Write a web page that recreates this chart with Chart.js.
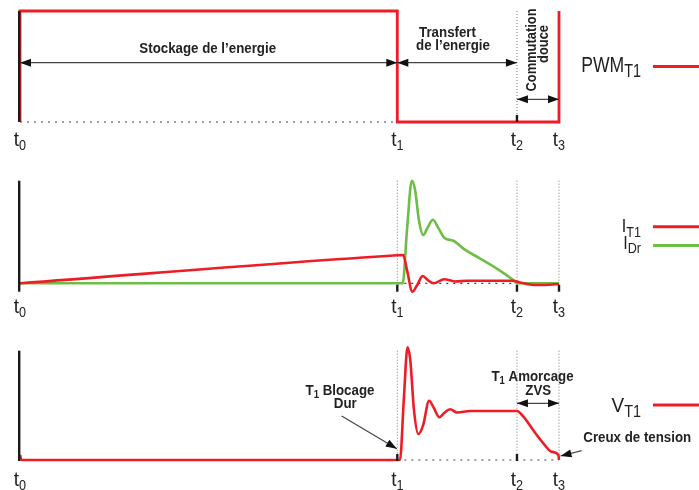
<!DOCTYPE html>
<html>
<head>
<meta charset="utf-8">
<script src="https://cdn.jsdelivr.net/npm/chart.js@4.4.0/dist/chart.umd.min.js"></script>
<style>
  html, body { margin: 0; padding: 0; background: #fff; }
  #wrap { position: relative; width: 699px; height: 490px; overflow: hidden; }
  .panel { position: absolute; left: 0; width: 699px; }
</style>
</head>
<body>
<div id="wrap">
  <div class="panel" style="top:0"><canvas id="pwmChart" width="699" height="160"></canvas></div>
  <div class="panel" style="top:160px"><canvas id="currentChart" width="699" height="170"></canvas></div>
  <div class="panel" style="top:330px"><canvas id="voltageChart" width="699" height="160"></canvas></div>
</div>
<script>
// instants t0..t3 (time in % of the period)
const instants = [0, 70, 92.2, 100];
const instantSubs = ['0', '1', '2', '3'];

// PWM command of T1
const pwmTime = [0, 0, 70, 70, 100, 100];
const pwmT1 = [0, 1, 1, 0, 0, 1];

// currents (normalised to the diode peak)
const iT1Time = [0, 70, 71.1, 71.8, 72.8, 73.7, 74.7, 75.7, 76.7, 78.7, 80.7, 82.9, 91.5, 92.8, 94.6, 96.5, 100];
const iT1 = [0, 0.273, 0.276, 0.13, -0.082, -0.017, 0.071, 0.03, 0, 0.039, 0.018, 0.025, 0.025, 0.008, -0.012, -0.017, -0.007];
const iDrTime = [0, 71.0, 71.8, 72.7, 73.3, 74.0, 74.8, 75.6, 76.6, 77.6, 78.8, 80.4, 82.6, 85.3, 88.4, 91.5, 92.2, 100];
const iDr = [0, 0, 0.52, 1.0, 0.91, 0.62, 0.47, 0.54, 0.62, 0.54, 0.44, 0.415, 0.325, 0.244, 0.146, 0.032, 0, 0];

// voltage across T1 (normalised to the overshoot peak)
const vT1Time = [0, 0.3, 70.5, 71.2, 71.9, 72.4, 73.1, 73.9, 74.8, 75.9, 76.8, 77.8, 78.7, 79.8, 81.1, 83.5, 92.2, 93.4, 95.2, 97.1, 98.6, 99.9, 100];
const vT1 = [0.044, 0, 0, 0.53, 1.0, 0.89, 0.44, 0.23, 0.31, 0.526, 0.46, 0.379, 0.417, 0.45, 0.421, 0.435, 0.435, 0.384, 0.266, 0.148, 0.074, 0.044, 0];

const RED = '#ee1c25';
const GREEN = '#6dbe45';
const FONT = "'Liberation Sans', Arial, sans-serif";

function pts(xs, ys) {
  return xs.map((x, i) => ({ x: x, y: ys[i] }));
}

function textW(ctx, s, font, sx) {
  ctx.font = font;
  return ctx.measureText(s).width * sx;
}

function putText(ctx, s, x, y, font, sx, color) {
  ctx.save();
  ctx.font = font;
  ctx.fillStyle = color;
  ctx.textAlign = 'left';
  ctx.textBaseline = 'alphabetic';
  ctx.translate(x, y);
  ctx.scale(sx, 1);
  ctx.fillText(s, 0, 0);
  ctx.restore();
}

// parts: [text, font, dy]
function putRich(ctx, parts, x, y, sx, color, align) {
  const total = parts.reduce((w, p) => w + textW(ctx, p[0], p[1], sx), 0);
  let cx = align === 'center' ? x - total / 2 : align === 'right' ? x - total : x;
  parts.forEach(p => {
    putText(ctx, p[0], cx, y + p[2], p[1], sx, color);
    cx += textW(ctx, p[0], p[1], sx);
  });
}

function arrowHead(ctx, x1, y1, x2, y2) {
  const a = Math.atan2(y2 - y1, x2 - x1), L = 11, W = 4;
  ctx.beginPath();
  ctx.moveTo(x2, y2);
  ctx.lineTo(x2 - L * Math.cos(a) + W * Math.sin(a), y2 - L * Math.sin(a) - W * Math.cos(a));
  ctx.lineTo(x2 - L * Math.cos(a) - W * Math.sin(a), y2 - L * Math.sin(a) + W * Math.cos(a));
  ctx.closePath();
  ctx.fill();
}

function arrow(ctx, x1, y1, x2, y2, both) {
  ctx.save();
  ctx.strokeStyle = '#444';
  ctx.fillStyle = '#111';
  ctx.lineWidth = 1.2;
  ctx.beginPath();
  ctx.moveTo(x1, y1);
  ctx.lineTo(x2, y2);
  ctx.stroke();
  arrowHead(ctx, x1, y1, x2, y2);
  if (both) arrowHead(ctx, x2, y2, x1, y1);
  ctx.restore();
}

function line(ctx, x1, y1, x2, y2, color, width, dash) {
  ctx.save();
  ctx.strokeStyle = color;
  ctx.lineWidth = width;
  ctx.setLineDash(dash || []);
  ctx.beginPath();
  ctx.moveTo(x1, y1);
  ctx.lineTo(x2, y2);
  ctx.stroke();
  ctx.restore();
}

const BOLD = 'bold 14px ' + FONT;
const BOLD_SUB = 'bold 10px ' + FONT;
const NOTE = '#222';
const SX = 0.95;

// decorations drawn around the traces: axis, instants, legend, notes
function deco(cfg) {
  return {
    id: 'deco',
    beforeDatasetsDraw(chart) {
      const ctx = chart.ctx, xs = chart.scales.x, ys = chart.scales.y;
      const y0 = ys.getPixelForValue(0);
      const yTop = ys.getPixelForValue(cfg.dotTop);
      cfg.dotted.forEach(i => {
        const x = xs.getPixelForValue(instants[i]);
        line(ctx, x, yTop, x, y0, '#777', 1, [1, 2]);
      });
      line(ctx, xs.getPixelForValue(instants[cfg.base[0]]), y0,
        xs.getPixelForValue(instants[cfg.base[1]]), y0, '#444', 1.2, [2, 5]);
    },
    afterDatasetsDraw(chart) {
      const ctx = chart.ctx, xs = chart.scales.x, ys = chart.scales.y;
      const area = chart.chartArea;
      const x0 = xs.getPixelForValue(instants[0]);
      line(ctx, x0 - 0.8, ys.getPixelForValue(cfg.axisTop), x0 - 0.8, area.bottom, '#1a1a1a', 2.4);
      cfg.ticks.forEach(i => {
        const x = xs.getPixelForValue(instants[i]);
        line(ctx, x, area.bottom - 7, x, area.bottom, '#1a1a1a', 2.4);
      });
      instants.forEach((t, i) => {
        putRich(ctx, [['t', '21px ' + FONT, 0], [instantSubs[i], '14px ' + FONT, 4]],
          xs.getPixelForValue(t), cfg.labelY, 0.9, '#222', 'center');
      });
      cfg.legend.forEach(l => {
        putRich(ctx, [[l.main, l.size + 'px ' + FONT, 0], [l.sub, l.subSize + 'px ' + FONT, l.dy]],
          641, l.y, l.sx, '#222', 'right');
        line(ctx, 653, l.lineY, 699, l.lineY, l.color, 3);
      });
      cfg.notes(ctx, xs, ys);
    }
  };
}

function makePanel(id, datasets, yMin, yMax, pad, cfg) {
  return new Chart(document.getElementById(id), {
    type: 'line',
    data: { datasets: datasets },
    options: {
      responsive: false,
      animation: false,
      layout: { padding: pad },
      plugins: { legend: { display: false }, tooltip: { enabled: false } },
      scales: {
        x: { type: 'linear', min: 0, max: 100, display: false },
        y: { min: yMin, max: yMax, display: false }
      },
      elements: { point: { radius: 0 } }
    },
    plugins: [deco(cfg)]
  });
}

// panel 1 : PWM_T1
makePanel('pwmChart', [
  { data: pts(pwmTime, pwmT1), borderColor: RED, borderWidth: 2.8, clip: false, tension: 0 }
], 0, 1, { left: 20, right: 140, top: 11, bottom: 38 }, {
  dotted: [2], dotTop: 1, base: [0, 1], axisTop: 1, ticks: [2], labelY: 146,
  legend: [{ main: 'PWM', sub: 'T1', size: 22, subSize: 18, dy: 5, sx: 0.8, y: 72, lineY: 66.5, color: RED }],
  notes(ctx, xs, ys) {
    const p0 = xs.getPixelForValue(instants[0]), p1 = xs.getPixelForValue(instants[1]);
    const p2 = xs.getPixelForValue(instants[2]), p3 = xs.getPixelForValue(instants[3]);
    arrow(ctx, p0, 62.7, p1, 62.7, true);
    arrow(ctx, p1, 62.7, p2, 62.7, true);
    arrow(ctx, p2, 99.3, p3, 99.3, true);
    putRich(ctx, [['Stockage de l\u2019energie', BOLD, 0]], 207.7, 53, SX, NOTE, 'center');
    putRich(ctx, [['Transfert', BOLD, 0]], 447.5, 37.3, SX, NOTE, 'center');
    putRich(ctx, [['de l\u2019energie', BOLD, 0]], 453, 50, SX, NOTE, 'center');
    ctx.save();
    ctx.translate(535.5, 50);
    ctx.rotate(-Math.PI / 2);
    putRich(ctx, [['Commutation', BOLD, 0]], 0, 0, 0.92, NOTE, 'center');
    ctx.restore();
    ctx.save();
    ctx.translate(548, 44);
    ctx.rotate(-Math.PI / 2);
    putRich(ctx, [['douce', BOLD, 0]], 0, 0, 0.92, NOTE, 'center');
    ctx.restore();
  }
});

// panel 2 : I_T1 and I_Dr
makePanel('currentChart', [
  { data: pts(iT1Time, iT1), borderColor: RED, borderWidth: 2.6, clip: false, cubicInterpolationMode: 'monotone' },
  { data: pts(iDrTime, iDr), borderColor: GREEN, borderWidth: 2.6, clip: false, cubicInterpolationMode: 'monotone' }
], -0.082, 1.0, { left: 20, right: 140, top: 20.7, bottom: 38.3 }, {
  dotted: [1, 2, 3], dotTop: 1.0, base: [1, 2], axisTop: 1.0, ticks: [1, 2, 3], labelY: 153,
  legend: [
    { main: 'I', sub: 'T1', size: 18, subSize: 14, dy: 5, sx: 0.9, y: 71.7, lineY: 66.7, color: RED },
    { main: 'I', sub: 'Dr', size: 18, subSize: 14, dy: 4, sx: 0.9, y: 89.3, lineY: 85.5, color: GREEN }
  ],
  notes() {}
});

// panel 3 : V_T1
makePanel('voltageChart', [
  { data: pts(vT1Time, vT1), borderColor: RED, borderWidth: 2.6, clip: false, cubicInterpolationMode: 'monotone' }
], -0.009, 1.0, { left: 20, right: 140, top: 17.3, bottom: 29 }, {
  dotted: [1, 2, 3], dotTop: 0.97, base: [1, 3], axisTop: 0.97, ticks: [1, 2], labelY: 156,
  legend: [{ main: 'V', sub: 'T1', size: 21, subSize: 16, dy: 5, sx: 0.9, y: 81.7, lineY: 75, color: RED }],
  notes(ctx, xs, ys) {
    const p1 = xs.getPixelForValue(instants[1]);
    const p2 = xs.getPixelForValue(instants[2]), p3 = xs.getPixelForValue(instants[3]);
    putRich(ctx, [['T', BOLD, 0], ['1', BOLD_SUB, 3], [' Blocage', BOLD, 0]], 340, 65, SX, NOTE, 'center');
    putRich(ctx, [['Dur', BOLD, 0]], 345.3, 78.3, SX, NOTE, 'center');
    arrow(ctx, 341.7, 86, p1 - 0.5, ys.getPixelForValue(0.1), false);
    putRich(ctx, [['T', BOLD, 0], ['1', BOLD_SUB, 3], [' Amorcage', BOLD, 0]], 532.5, 51, SX, NOTE, 'center');
    putRich(ctx, [['ZVS', BOLD, 0]], 538.3, 65, SX, NOTE, 'center');
    arrow(ctx, p2, 73.3, p3, 73.3, true);
    putRich(ctx, [['Creux de tension', BOLD, 0]], 583.3, 112.3, SX, NOTE, 'left');
    arrow(ctx, 581.7, 120.7, p3 + 1.5, ys.getPixelForValue(0.035), false);
  }
});
</script>
</body>
</html>
